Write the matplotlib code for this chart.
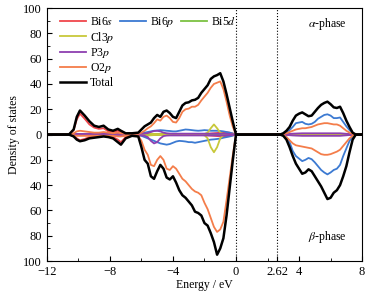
import numpy as np
import matplotlib
matplotlib.use('Agg')
import matplotlib.pyplot as plt
from matplotlib.lines import Line2D
from matplotlib.ticker import FuncFormatter, MultipleLocator

plt.rcParams['font.family'] = ['Liberation Serif', 'DejaVu Serif']
plt.rcParams['mathtext.fontset'] = 'stix'

# valence band energies (eV)
e_vb = [-12, -10.6, -10.3, -10.1, -9.9, -9.6, -9.3, -9.0, -8.7, -8.4, -8.1, -7.8,
        -7.5, -7.3, -7.0, -6.6, -6.2, -6.0, -5.8, -5.6, -5.4, -5.2, -5.0, -4.8,
        -4.6, -4.4, -4.2, -4.0, -3.8, -3.6, -3.4, -3.2, -3.0, -2.8, -2.6, -2.4,
        -2.2, -2.0, -1.8, -1.6, -1.4, -1.2, -1.0, -0.8, -0.6, -0.4, -0.2, 0]
# conduction band energies (eV)
e_cb = [2.62, 2.8, 3.0, 3.2, 3.4, 3.6, 3.8, 4.0, 4.2, 4.4, 4.6, 4.8, 5.0, 5.2,
        5.4, 5.6, 5.8, 6.0, 6.2, 6.4, 6.6, 6.8, 7.0, 7.2, 7.4, 7.6, 8.0]

# ---- alpha phase (upper half) ----
a_bi6s_vb = [0, 0, 3.5, 12, 16.5, 12.5, 8, 5.5, 4.5, 5, 2.5, 2, 3, 2, 0.5, 0.3, 0.3, 0.3,
             0.3, 0.3, 0.3, 0.3, 0.3, 0.3, 0.3, 0.3, 0.3, 0.3, 0.3, 0.3, 0.3, 0.3, 0.3,
             0.3, 0.3, 0.3, 0.4, 0.5, 0.6, 0.8, 1, 1.2, 1.5, 1.8, 1.8, 1.5, 0.8, 0]
a_bi6p_vb = [0, 0, 0.2, 0.3, 0.3, 0.3, 0.3, 0.3, 0.3, 0.3, 0.3, 0.3, 0.3, 0.3, 0.3, 0.3,
             0.5, 1, 1.5, 2, 2.5, 3, 3.2, 3.5, 3.3, 3, 2.8, 2.5, 2.5, 3, 3.5, 4, 3.8,
             3.5, 3.2, 3, 3.2, 3.5, 3.3, 3, 3, 3, 2.8, 2.5, 2, 1.5, 0.8, 0]
a_bi5d_vb = [0] * 2 + [0.2] * 45 + [0]
a_cl3p_vb = [0, 0, 0.1, 0.2, 0.2, 0.2, 0.2, 0.2, 0.2, 0.2, 0.2, 0.2, 0.2, 0.2, 0.2, 0.2,
             0.2, 0.3, 0.5, 0.8, 0.6, 0.4, 0.3, 0.3, 0.3, 0.3, 0.3, 0.3, 0.3, 0.3, 0.3,
             0.3, 0.3, 0.3, 0.3, 0.3, 0.3, 0.4, 1.5, 5, 8, 5, 1.5, 0.4, 0.3, 0.2, 0.1, 0]
a_p3p_vb = [0, 0, 0.3, 0.5, 0.5, 0.5, 0.5, 0.5, 0.5, 0.5, 0.5, 0.5, 0.5, 0.5, 0.5, 0.5,
            0.5, 0.6, 0.8, 1.2, 2, 2.8, 3, 2.5, 1.5, 1, 0.8, 0.7, 0.7, 0.7, 0.7, 0.7,
            0.7, 0.7, 0.7, 0.7, 0.7, 0.7, 0.7, 0.7, 0.7, 0.7, 0.7, 0.7, 0.6, 0.5, 0.3, 0]
a_o2p_vb = [0, 0, 1, 2.5, 3, 2.5, 2, 1.5, 1.5, 2, 1.5, 1, 1.5, 1, 0.5, 0.5, 0.5, 1.5, 3,
            5, 6.5, 9, 12, 11, 14, 15, 13, 10, 9.5, 13, 18, 20, 20.5, 22, 22, 23.5,
            27, 30, 33, 37, 40, 41, 42, 36, 26, 15, 6, 0]
a_total_vb = [0, 0, 4, 14, 19, 15, 10.5, 7, 6, 7, 4, 3, 4.5, 3, 1, 1, 1.5, 4, 6.5, 8,
              9.5, 13, 15.5, 14, 18, 19, 17, 14, 13, 18, 23, 25, 25.5, 27, 27.5, 29,
              33, 36, 39, 44, 46, 47, 48.5, 42, 32, 21, 10, 0]

a_bi6s_cb = [0] * 27
a_bi6p_cb = [0, 0, 0.5, 2, 3.5, 6, 9, 9.5, 10, 8.5, 8, 8.5, 10, 12.5, 14, 15.5, 16, 15,
             13, 13, 13.5, 10, 6.5, 3.5, 1, 0, 0]
a_bi5d_cb = [0, 0, 0.1, 0.2, 0.3, 0.4, 0.5, 0.5, 0.5, 0.5, 0.5, 0.5, 0.5, 0.5, 0.5, 0.5,
             0.5, 0.5, 0.5, 0.5, 0.5, 0.4, 0.3, 0.2, 0.1, 0, 0]
a_cl3p_cb = [0] * 27
a_p3p_cb = [0, 0, 0.2, 0.3, 0.5, 0.7, 0.8, 0.9, 1, 1, 1, 1, 1, 1, 1, 1, 1, 1, 1, 1, 1,
            0.8, 0.6, 0.4, 0.2, 0, 0]
a_o2p_cb = [0, 0, 0.3, 1, 2, 3, 4, 4.5, 5, 5, 5.5, 6, 7, 8, 8.5, 9, 9, 8.5, 8, 8, 7, 5,
            3, 1.5, 0.5, 0, 0]
a_total_cb = [0, 0, 1, 3, 6, 11, 15, 16.5, 17.5, 16, 14.5, 15, 18, 21, 23.5, 25, 26, 24,
              21.5, 21, 22, 17, 11, 6, 1.5, 0, 0]

# ---- beta phase (lower half) ----
b_bi6s_vb = [0, 0, -1, -3, -4.5, -3.5, -2, -1.5, -1, -1, -1.5, -2, -4, -6, -2, -0.3,
             -0.3, -0.3, -0.3, -0.3, -0.3, -0.3, -0.3, -0.3, -0.3, -0.3, -0.3, -0.3,
             -0.3, -0.3, -0.3, -0.3, -0.3, -0.3, -0.3, -0.3, -0.4, -0.5, -0.6, -0.8,
             -1, -1.2, -1.4, -1.5, -1.4, -1.2, -0.6, 0]
b_bi6p_vb = [0, 0, -0.2, -0.3, -0.3, -0.3, -0.3, -0.3, -0.3, -0.3, -0.3, -0.3, -0.3,
             -0.3, -0.3, -0.3, -0.5, -1, -2, -3, -4, -5, -6, -7, -7.5, -8, -7.5, -6.5,
             -5.5, -5, -5.2, -5.5, -6, -6, -6.5, -6, -5.5, -5, -4.5, -4, -3.8, -3.5,
             -3.2, -2.5, -2, -1.5, -0.8, 0]
b_bi5d_vb = [0] * 2 + [-0.2] * 45 + [0]
b_cl3p_vb = [0, 0, -0.1, -0.2, -0.2, -0.2, -0.2, -0.2, -0.2, -0.2, -0.2, -0.2, -0.2,
             -0.2, -0.2, -0.2, -0.2, -0.3, -0.5, -0.8, -0.6, -0.4, -0.3, -0.3, -0.3,
             -0.3, -0.3, -0.3, -0.3, -0.3, -0.3, -0.3, -0.3, -0.3, -0.3, -0.3, -0.3,
             -0.5, -3, -10, -14, -10, -3, -0.5, -0.3, -0.2, -0.1, 0]
b_p3p_vb = [0, 0, -0.3, -0.5, -0.5, -0.5, -0.5, -0.5, -0.5, -0.5, -0.5, -0.5, -0.5,
            -0.5, -0.5, -0.5, -0.5, -0.7, -1, -2, -5, -7, -6, -3, -1.2, -0.8, -0.7,
            -0.7, -0.7, -0.7, -0.7, -0.7, -0.7, -0.7, -0.7, -0.7, -0.7, -0.7, -0.7,
            -0.7, -0.7, -0.7, -0.7, -0.7, -0.6, -0.5, -0.3, 0]
b_o2p_vb = [0, 0, -0.5, -1, -1, -1, -1, -1, -1, -1, -1, -1, -1.5, -1.5, -1, -0.8, -1,
            -5, -12, -16, -24, -25, -20, -17, -20, -27, -28, -25, -27, -31, -35, -37,
            -40, -43, -45, -46, -48, -54, -59, -66, -73, -77, -75, -69, -52, -34, -16, 0]
b_total_vb = [0, 0, -1.5, -4, -5.3, -4.5, -3, -2.5, -2, -1.5, -2, -3, -6, -8, -3, -1,
              -1.5, -10, -20, -23, -33, -35, -29, -24, -27, -34, -35.5, -33, -38, -44,
              -48, -50, -53, -56, -61, -62, -64, -70, -72, -78, -85, -95, -90, -82,
              -64, -42, -20, 0]

b_bi6s_cb = [0] * 27
b_bi6p_cb = [0, 0, -0.5, -2, -6, -13, -17, -19, -21, -20, -18.5, -19.5, -22, -25, -28,
             -30, -31.5, -30, -28, -27, -24, -17, -11, -5, -1.5, 0, 0]
b_bi5d_cb = [0, 0, -0.1, -0.2, -0.3, -0.4, -0.5, -0.5, -0.5, -0.5, -0.5, -0.5, -0.5,
             -0.5, -0.5, -0.5, -0.5, -0.5, -0.5, -0.5, -0.5, -0.4, -0.3, -0.2, -0.1, 0, 0]
b_cl3p_cb = [0] * 27
b_p3p_cb = [0, 0, -0.2, -0.3, -0.5, -0.7, -0.8, -0.9, -1, -1, -1, -1, -1, -1, -1, -1,
            -1, -1, -1, -1, -1, -0.8, -0.6, -0.4, -0.2, 0, 0]
b_o2p_cb = [0, 0, -0.5, -2, -4.5, -7, -8.5, -9, -9.5, -10, -10.5, -11, -12.5, -14,
            -15.5, -16, -16, -15.5, -14.5, -13.5, -12, -9, -6, -3, -1, 0, 0]
b_total_cb = [0, 0, -1, -4, -10, -17, -23, -27, -31, -30, -27.5, -29, -33, -37, -41,
              -46, -51, -50, -46, -44, -40, -33, -25, -14, -4, 0, 0]

labels = ['Bi6$s$', 'Bi6$p$', 'Bi5$d$', 'Cl3$p$', 'P3$p$', 'O2$p$', 'Total']
colors = ['#f0464c', '#3c7ad2', '#7cc142', '#c8c83a', '#8e3fb0', '#f47d4a', 'black']
alpha_vb = [a_bi6s_vb, a_bi6p_vb, a_bi5d_vb, a_cl3p_vb, a_p3p_vb, a_o2p_vb, a_total_vb]
alpha_cb = [a_bi6s_cb, a_bi6p_cb, a_bi5d_cb, a_cl3p_cb, a_p3p_cb, a_o2p_cb, a_total_cb]
beta_vb = [b_bi6s_vb, b_bi6p_vb, b_bi5d_vb, b_cl3p_vb, b_p3p_vb, b_o2p_vb, b_total_vb]
beta_cb = [b_bi6s_cb, b_bi6p_cb, b_bi5d_cb, b_cl3p_cb, b_p3p_cb, b_o2p_cb, b_total_cb]

energy = np.concatenate([e_vb, e_cb])

fig = plt.figure(figsize=(3.84, 2.99), dpi=100)
ax = fig.add_axes([0.122, 0.127, 0.821, 0.846])

handles = []
for i in range(len(labels)):
    lw = 1.8 if labels[i] == 'Total' else 1.3
    h, = ax.plot(energy, np.concatenate([alpha_vb[i], alpha_cb[i]]), color=colors[i], lw=lw)
    ax.plot(energy, np.concatenate([beta_vb[i], beta_cb[i]]), color=colors[i], lw=lw)
    handles.append(h)

ax.axvline(0, color='black', ls=':', lw=0.8)
ax.axvline(2.62, color='black', ls=':', lw=0.8)

ax.set_xlim(-12, 8)
ax.set_ylim(-100, 100)
ax.set_xticks([-12, -8, -4, 0, 2.62, 4, 8])
ax.set_xticklabels(['\u221212', '\u22128', '\u22124', '0', '2.62', '4', '8'])
ax.set_xticks([-10, -6, -2, 2, 6], minor=True)
ax.yaxis.set_major_locator(MultipleLocator(20))
ax.yaxis.set_minor_locator(MultipleLocator(10))
ax.yaxis.set_major_formatter(FuncFormatter(lambda v, p: '%d' % abs(v)))
ax.tick_params(which='both', direction='in', labelsize=9)
ax.tick_params(which='major', length=3.5)
ax.tick_params(which='minor', length=2)

ax.set_xlabel('Energy / eV', fontsize=8.5, labelpad=1)
ax.set_ylabel('Density of states', fontsize=8.5, labelpad=2)

ax.text(5.8, 87.5, r'$\alpha$-phase', fontsize=8.5, ha='center', va='center')
ax.text(5.8, -81, r'$\beta$-phase', fontsize=8.5, ha='center', va='center')

blank = Line2D([], [], lw=0)
order = [handles[0], handles[3], handles[4], handles[5], handles[6],
         handles[1], blank, blank, blank, blank,
         handles[2], blank, blank, blank, blank]
names = [labels[0], labels[3], labels[4], labels[5], labels[6],
         labels[1], '', '', '', '',
         labels[2], '', '', '', '']
ax.legend(order, names, ncol=3, loc='upper left', bbox_to_anchor=(0.041, 0.972),
          frameon=False, fontsize=8.5, handlelength=2.2, handletextpad=0.35,
          columnspacing=0.5, labelspacing=0.12, borderaxespad=0, borderpad=0)

fig.savefig('out.png', dpi=100)
